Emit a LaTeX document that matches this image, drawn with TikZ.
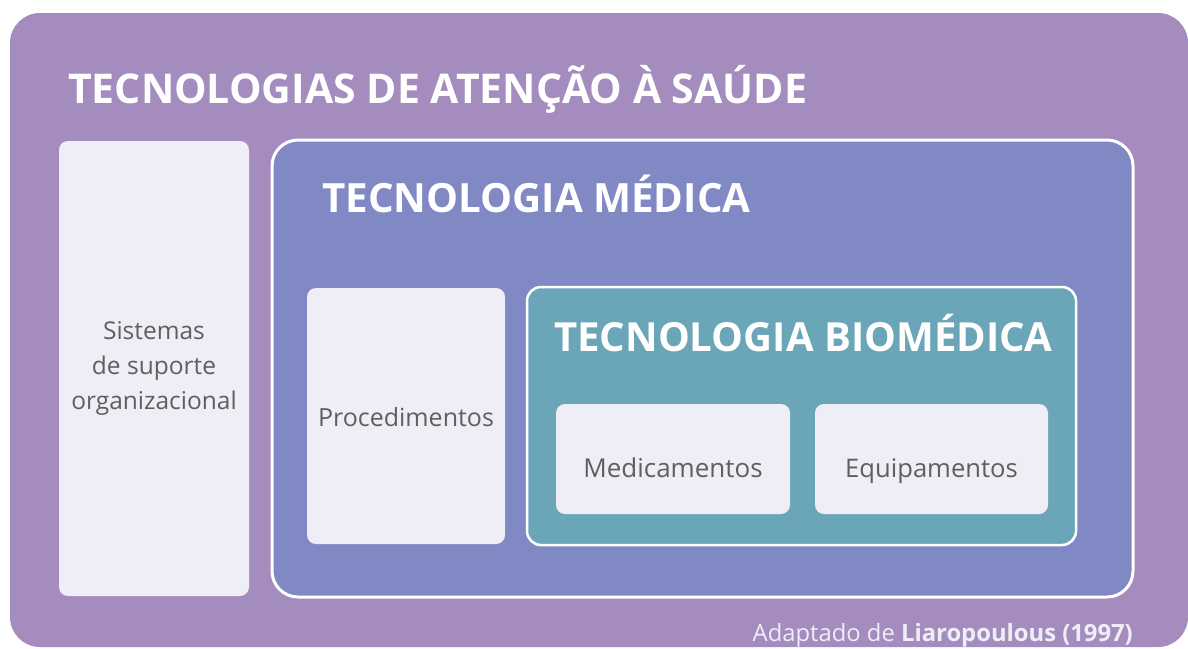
\documentclass[tikz,border=0pt]{standalone}
\usepackage{fontspec}
\setmainfont{Open Sans}

\definecolor{saudepurple}{HTML}{A48CBE}
\definecolor{medicablue}{HTML}{8189C5}
\definecolor{biomedteal}{HTML}{6AA6B8}
\definecolor{lightbox}{HTML}{EFEEF6}
\definecolor{boxtext}{HTML}{5F5F5F}

\tikzset{
  panel/.style={anchor=north west, inner sep=0pt, outer sep=0pt},
  itembox/.style={panel, fill=lightbox, rounded corners=9pt},
  itemtext/.style={anchor=base, text=boxtext, inner sep=0pt,
    font=\fontsize{26}{34}\selectfont},
  headline/.style={anchor=base west, text=white, inner sep=0pt,
    font=\bfseries\fontsize{#1}{#1}\selectfont},
  headline/.default=41
}

\begin{document}
\begin{tikzpicture}[x=1pt, y=-1pt]

\useasboundingbox (0,0) rectangle (1188,648);
\fill[white] (0,0) rectangle (1188,648);

% outer frame
\node[panel, fill=saudepurple, rounded corners=30pt,
  minimum width=1178pt, minimum height=634pt] (saude) at (10,13) {};
\node[headline] (saudetitle) at (68,103) {TECNOLOGIAS DE ATENÇÃO À SAÚDE};

\node[itembox, minimum width=190pt, minimum height=455pt] (suporte) at (59,141) {};
\node[text=boxtext, font=\fontsize{24.5}{35}\selectfont, align=center]
  (suportetext) at (suporte.center) {Sistemas\\de suporte\\organizacional};

% tecnologia medica
\node[panel, fill=medicablue, draw=white, line width=3pt, rounded corners=26pt,
  minimum width=861pt, minimum height=457pt] (medica) at (272,140) {};
\node[headline=40.3] (medicatitle) at (322,212) {TECNOLOGIA MÉDICA};

\node[itembox, minimum width=198pt, minimum height=256pt] (proced) at (307,288) {};
\node[itemtext, font=\fontsize{25}{34}\selectfont] (procedtext) at (proced.center |- 0,426) {Procedimentos};

% tecnologia biomedica
\node[panel, fill=biomedteal, draw=white, line width=2.5pt, rounded corners=14pt,
  minimum width=549pt, minimum height=258pt] (biomed) at (527,287) {};
\node[headline=40.1] (biomedtitle) at (554,351) {TECNOLOGIA BIOMÉDICA};

\node[itembox, minimum width=234pt, minimum height=110pt] (medicam) at (556,404) {};
\node[itemtext] (medicamtext) at (medicam.center |- 0,477) {Medicamentos};
\node[itembox, minimum width=233pt, minimum height=110pt] (equip) at (815,404) {};
\node[itemtext, font=\fontsize{25.6}{34}\selectfont] (equiptext) at (equip.center |- 0,477) {Equipamentos};

\node[anchor=base east, text=lightbox, inner sep=0pt, font=\fontsize{23.8}{24}\selectfont]
  (fonte) at (1133,641) {Adaptado de \textbf{Liaropoulous (1997)}};

\end{tikzpicture}
\end{document}
